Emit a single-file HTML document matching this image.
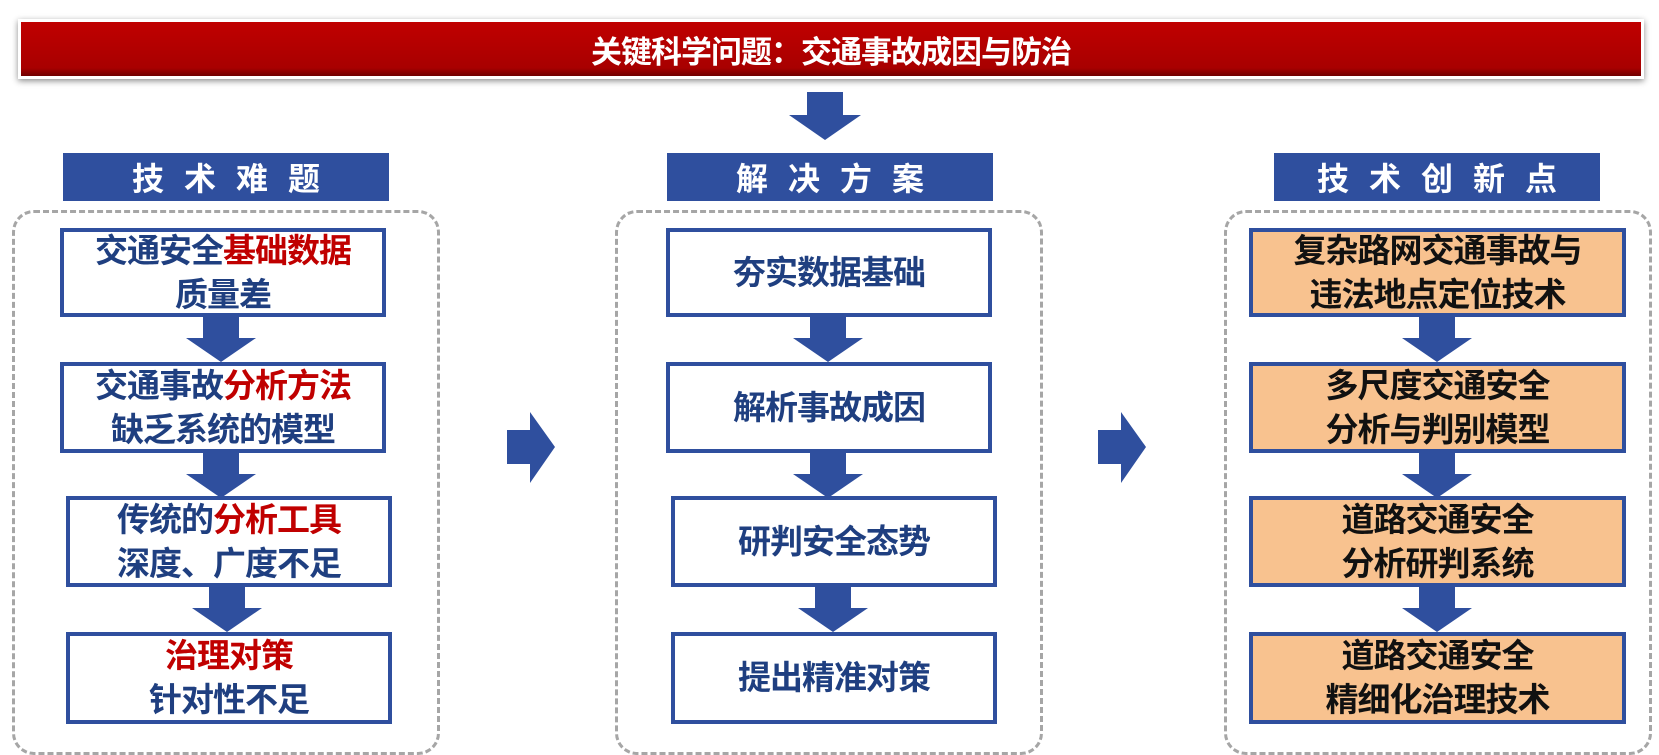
<!DOCTYPE html>
<html><head><meta charset="utf-8"><style>
body{margin:0;width:1659px;height:741px;background:#fff;position:relative;overflow:hidden;font-family:"Liberation Sans","Noto Sans CJK SC",sans-serif;font-weight:bold}
.a{position:absolute;box-sizing:border-box}
.title{left:18px;top:19px;width:1626px;height:60px;background:linear-gradient(#c00000,#a80000 85%,#700000);border:3px solid #fff;box-shadow:0 2px 6px rgba(0,0,0,.45);color:#fff;font-size:31px;display:flex;align-items:center;justify-content:center;letter-spacing:-1px}
.hd{height:48px;width:326px;top:153px;background:#2f4f9e;color:#fff;font-size:32px;letter-spacing:20px;display:flex;align-items:center;justify-content:center;padding-left:20px}
.dash{top:210px;height:545px;width:428px;border:3px dashed #a6a6a6;border-radius:22px}
.bx{width:326px;border:4px solid #2f4f9e;background:#fff;color:#1f3f80;font-size:33px;line-height:44px;letter-spacing:-1px;display:flex;align-items:center;justify-content:center;text-align:center;white-space:nowrap}
.or{background:#f8c28f;color:#111}
.r{color:#c00000}
</style></head><body>
<div class="a title">关键科学问题：交通事故成因与防治</div>
<svg class="a" style="left:0;top:0" width="1659" height="741">
<g fill="#2f4f9e">
<polygon points="807,92 843,92 843,115 861,115 825,140 789,115 807,115"/>
<polygon points="507,430 530,430 530,412 555,447 530,483 530,464 507,464"/>
<polygon points="1098,430 1121,430 1121,412 1146,447 1121,483 1121,464 1098,464"/>
</g>
</svg>
<div class="a hd" style="left:63px">技术难题</div>
<div class="a hd" style="left:667px">解决方案</div>
<div class="a hd" style="left:1274px">技术创新点</div>
<div class="a dash" style="left:12px"></div>
<div class="a dash" style="left:615px"></div>
<div class="a dash" style="left:1224px"></div>

<div class="a bx" style="left:60px;top:228px;height:89px"><div>交通安全<span class="r">基础数据</span><br>质量差</div></div>
<div class="a bx" style="left:60px;top:362px;height:91px"><div>交通事故<span class="r">分析方法</span><br>缺乏系统的模型</div></div>
<div class="a bx" style="left:66px;top:496px;height:91px"><div>传统的<span class="r">分析工具</span><br>深度、广度不足</div></div>
<div class="a bx" style="left:66px;top:632px;height:92px"><div><span class="r">治理对策</span><br>针对性不足</div></div>

<div class="a bx" style="left:666px;top:228px;height:89px">夯实数据基础</div>
<div class="a bx" style="left:666px;top:362px;height:91px">解析事故成因</div>
<div class="a bx" style="left:671px;top:496px;height:91px">研判安全态势</div>
<div class="a bx" style="left:671px;top:632px;height:92px">提出精准对策</div>

<div class="a bx or" style="left:1249px;top:228px;width:377px;height:89px"><div>复杂路网交通事故与<br>违法地点定位技术</div></div>
<div class="a bx or" style="left:1249px;top:362px;width:377px;height:91px"><div>多尺度交通安全<br>分析与判别模型</div></div>
<div class="a bx or" style="left:1249px;top:496px;width:377px;height:91px"><div>道路交通安全<br>分析研判系统</div></div>
<div class="a bx or" style="left:1249px;top:632px;width:377px;height:92px"><div>道路交通安全<br>精细化治理技术</div></div>

<svg class="a" style="left:0;top:0" width="1659" height="741">
<defs><polygon id="d" points="-18,0 18,0 18,22 35,22 0,46 -35,22 -18,22"/></defs>
<g fill="#2f4f9e">
<use href="#d" x="221" y="316"/><use href="#d" x="221" y="452"/><use href="#d" x="227" y="586"/>
<use href="#d" x="828" y="316"/><use href="#d" x="828" y="452"/><use href="#d" x="833" y="586"/>
<use href="#d" x="1437" y="316"/><use href="#d" x="1437" y="452"/><use href="#d" x="1437" y="586"/>
</g></svg>
</body></html>
